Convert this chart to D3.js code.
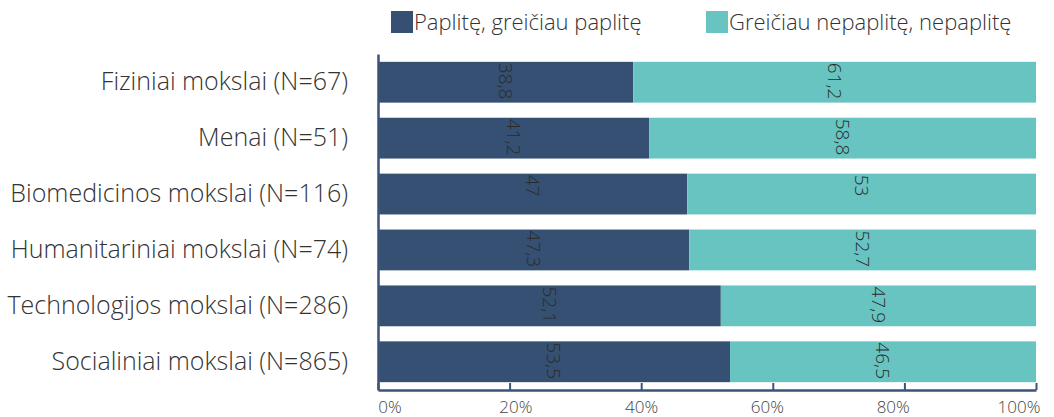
<!DOCTYPE html>
<html>
<head>
<meta charset="utf-8">
<script src="https://cdn.jsdelivr.net/npm/d3@7"></script>
<style>
	body { margin: 0; background: #fff; }
	svg { font-family: "Open Sans", "DejaVu Sans", sans-serif; }
	.cat { font-size: 25px; fill: #333; font-weight: 300; }
	.legend { font-size: 22px; fill: #333; font-weight: 300; }
	.tick-label { font-size: 17px; fill: #444; font-weight: 300; }
	.val { font-size: 19px; fill: #2b2b2b; font-weight: 300; }
</style>
</head>
<body>
<svg id="chart" width="1054" height="417"></svg>
<script>
const categories = [
	'Fiziniai mokslai (N=67)',
	'Menai (N=51)',
	'Biomedicinos mokslai (N=116)',
	'Humanitariniai mokslai (N=74)',
	'Technologijos mokslai (N=286)',
	'Socialiniai mokslai (N=865)'
]
const spread = [38.8, 41.2, 47, 47.3, 52.1, 53.5]
const notSpread = [61.2, 58.8, 53, 52.7, 47.9, 46.5]
const seriesNames = ['Paplitę, greičiau paplitę', 'Greičiau nepaplitę, nepaplitę']
const tickValues = [0, 20, 40, 60, 80, 100]
const colors = ['#355072', '#67c4c1']

const fmt = v => String(v).replace('.', ',')

const margin = { top: 54, right: 18, bottom: 27, left: 378 }
const svg = d3.select('#chart')
const width = 1054 - margin.left - margin.right
const height = 417 - margin.top - margin.bottom

const rows = categories.map((c, i) => ({ cat: c, a: spread[i], b: notSpread[i] }))

const x = d3.scaleLinear().domain([0, 100]).range([0, width])
const y = d3.scaleBand().domain(categories).range([0, height]).paddingInner(0.27).paddingOuter(0.14)
// excel spreads the tick labels a bit narrower than the ticks
const xLabel = d3.scaleLinear().domain([0, 100]).range([12, width - 17])

const chart = svg.append('g')
	.attr('transform', `translate(${margin.left}, ${margin.top})`)

// bars
rows.forEach(r => {
	const segs = [
		{ x0: 0, x1: r.a, v: r.a, c: colors[0] },
		{ x0: r.a, x1: r.a + r.b, v: r.b, c: colors[1] }
	]
	segs.forEach(s => {
		chart.append('rect')
			.attr('x', x(s.x0))
			.attr('y', y(r.cat))
			.attr('width', x(s.x1) - x(s.x0))
			.attr('height', y.bandwidth())
			.attr('fill', s.c)
		const cx = x((s.x0 + s.x1) / 2)
		const ty = y(r.cat) + 1
		chart.append('text')
			.attr('class', 'val')
			.attr('transform', `translate(${cx}, ${ty}) rotate(90)`)
			.attr('dy', '0.35em')
			.attr('text-anchor', 'start')
			.text(fmt(s.v))
	})
})

// x axis
const xAxis = chart.append('g')
	.attr('transform', `translate(0, ${height})`)
	.call(d3.axisBottom(x).tickValues(tickValues).tickSizeInner(-7).tickSizeOuter(0).tickFormat(''))
xAxis.select('.domain').attr('stroke', '#3a5478').attr('stroke-width', 2.5)
xAxis.selectAll('.tick line').attr('stroke', '#3a5478').attr('stroke-width', 2)

chart.append('g')
	.selectAll('text')
	.data(tickValues)
	.join('text')
	.attr('class', 'tick-label')
	.attr('x', d => xLabel(d))
	.attr('y', height + 23)
	.attr('text-anchor', 'middle')
	.text(d => d + '%')

// y axis
const yAxis = chart.append('g')
	.call(d3.axisLeft(y).tickSize(0).tickPadding(30))
yAxis.select('.domain').attr('stroke', '#3a5478').attr('stroke-width', 2.5)
yAxis.selectAll('text')
	.attr('class', 'cat')
	.attr('font-size', null)
	.attr('font-family', null)
yAxis.attr('font-size', null).attr('font-family', null)

// legend
const legX = [391, 706]
seriesNames.forEach((n, i) => {
	svg.append('rect')
		.attr('x', legX[i])
		.attr('y', 11)
		.attr('width', 22)
		.attr('height', 22)
		.attr('fill', colors[i])
	svg.append('text')
		.attr('class', 'legend')
		.attr('x', legX[i] + 23)
		.attr('y', 22)
		.attr('dy', '0.35em')
		.text(n)
})
</script>
</body>
</html>
